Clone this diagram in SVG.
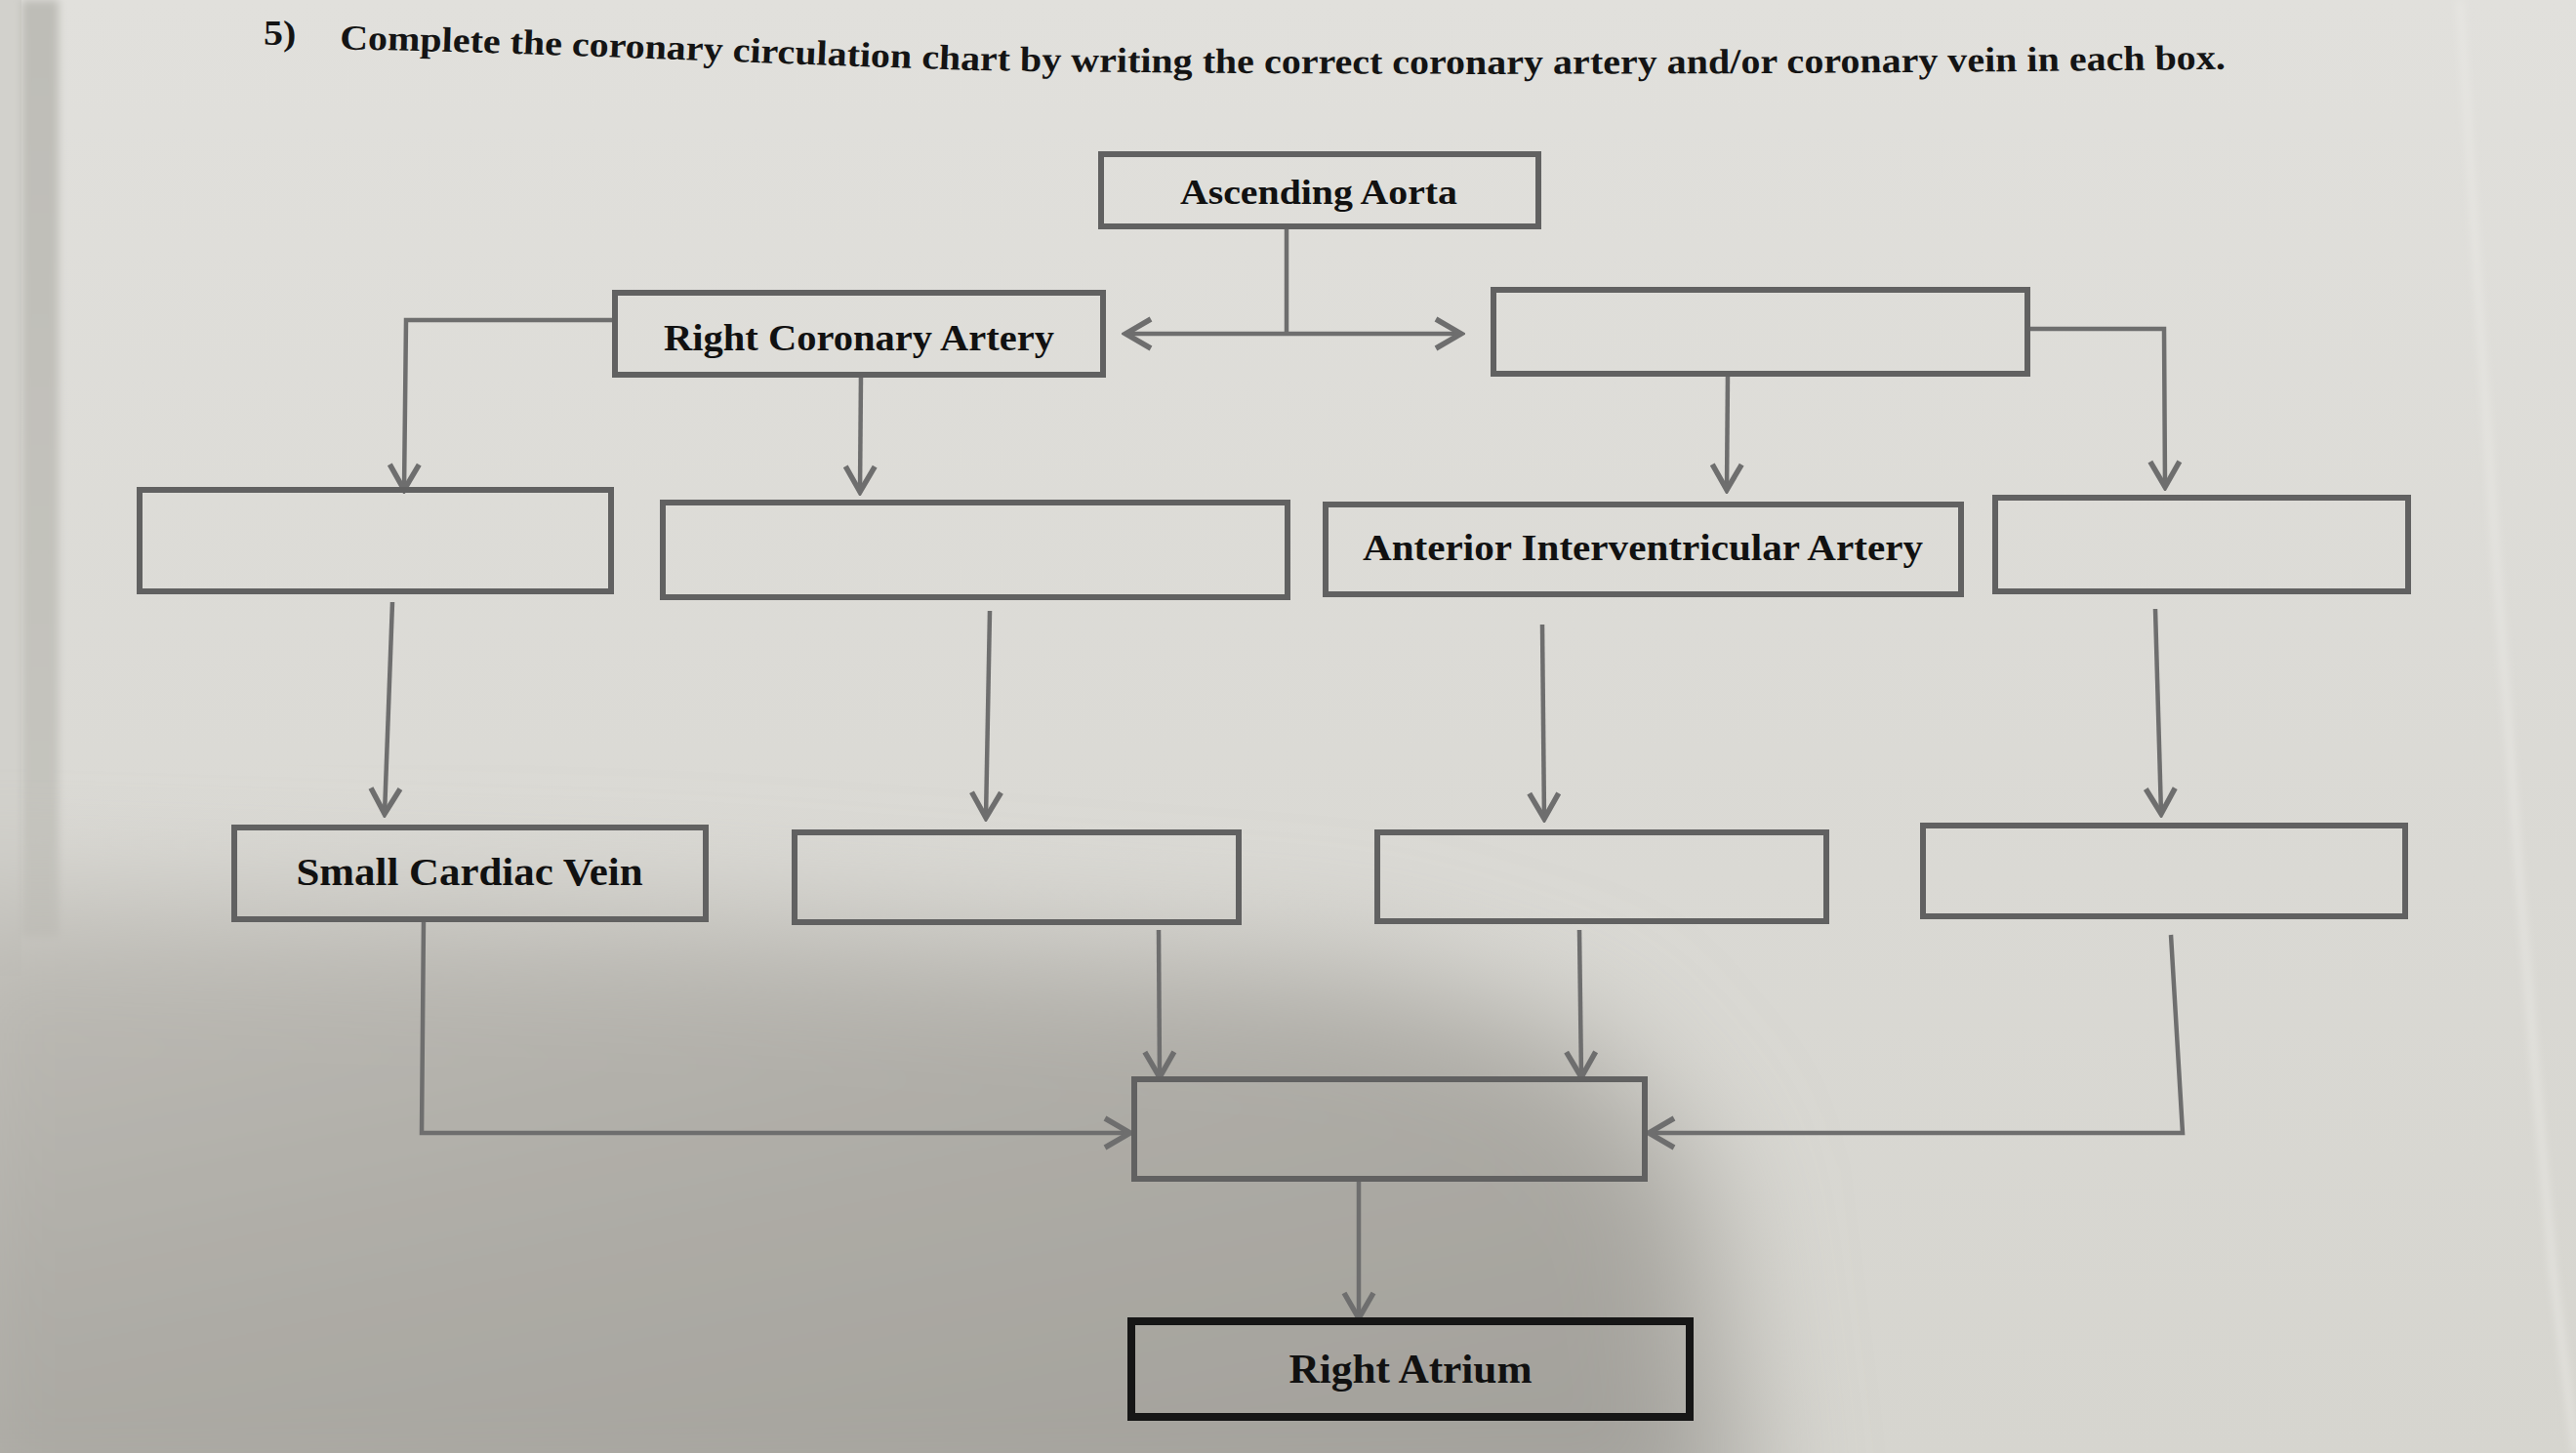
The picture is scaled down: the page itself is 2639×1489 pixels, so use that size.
<svg xmlns="http://www.w3.org/2000/svg" width="2639" height="1489" viewBox="0 0 2639 1489">
  <defs>
    <style>
      .box { fill: none; stroke: #616161; stroke-width: 6; }
      .ra { fill: none; stroke: #161616; stroke-width: 8; }
      .lbl { font-family: "Liberation Serif", "Times New Roman", serif; font-weight: bold; fill: #111; text-anchor: middle; }
      .title { font-family: "Liberation Serif", "Times New Roman", serif; font-weight: bold; fill: #141414; font-size: 40px; }
      .con { fill: none; stroke: #6e6e6e; stroke-width: 4.5; stroke-linejoin: miter; }
    </style>
    <marker id="ah" viewBox="-32 -20 36 40" refX="0" refY="0" markerWidth="36" markerHeight="40" markerUnits="userSpaceOnUse" orient="auto-start-reverse">
      <path d="M -26 -15 L 0 0 L -26 15" fill="none" stroke="#6e6e6e" stroke-width="5.5"/>
    </marker>
    <linearGradient id="paper" x1="0" y1="0" x2="0" y2="1">
      <stop offset="0" stop-color="#e1e0dc"/>
      <stop offset="0.6" stop-color="#dad9d4"/>
      <stop offset="1" stop-color="#d6d5cf"/>
    </linearGradient>
    <linearGradient id="shade" x1="0" y1="0" x2="0.6" y2="1">
      <stop offset="0" stop-color="#bfbdb7"/>
      <stop offset="0.5" stop-color="#aeaca6"/>
      <stop offset="1" stop-color="#a3a19b"/>
    </linearGradient>
    <linearGradient id="edge" x1="0" y1="0" x2="0" y2="1">
      <stop offset="0" stop-color="#bebdb7"/>
      <stop offset="1" stop-color="#c6c5bf"/>
    </linearGradient>
    <filter id="blur" x="-20%" y="-20%" width="140%" height="140%">
      <feGaussianBlur stdDeviation="65"/>
    </filter>
    <filter id="soft" x="-50%" y="-5%" width="200%" height="110%">
      <feGaussianBlur stdDeviation="4"/>
    </filter>
  </defs>

  <!-- paper background -->
  <rect x="0" y="0" width="2639" height="1489" fill="url(#paper)"/>
  <rect x="0" y="0" width="22" height="1000" fill="#d2d1cc"/>
  <rect x="22" y="0" width="38" height="960" fill="url(#edge)" filter="url(#soft)"/>
  <path d="M -100 920 L 700 945 L 1400 995 L 1620 1060 L 1740 1200 L 1790 1600 L -100 1600 Z" fill="url(#shade)" filter="url(#blur)"/>
  <path d="M 2520 0 C 2545 400, 2570 800, 2615 1300 L 2639 1489" fill="none" stroke="#ecebe7" stroke-width="4" filter="url(#soft)"/>

  <!-- title -->
  <g id="title">
    <g transform="scale(1,0.9)">
      <text class="title" x="270" y="51">5)</text>
      <path id="tpath" d="M 348 56 C 550 60, 750 71, 1000 80 C 1400 87, 1900 84, 2320 78" fill="none"/>
      <text class="title"><textPath href="#tpath">Complete the coronary circulation chart by writing the correct coronary artery and/or coronary vein in each box.</textPath></text>
    </g>
  </g>

  <!-- connectors -->
  <g id="connectors">
    <path class="con" d="M 1318 232 L 1318 342"/>
    <path class="con" d="M 1153 342 L 1497 342" marker-start="url(#ah)" marker-end="url(#ah)"/>
    <path class="con" d="M 630 328 L 416 328 L 414 502" marker-end="url(#ah)"/>
    <path class="con" d="M 882 384 L 881 504" marker-end="url(#ah)"/>
    <path class="con" d="M 1770 383 L 1769 502" marker-end="url(#ah)"/>
    <path class="con" d="M 2077 337 L 2217 337 L 2218 499" marker-end="url(#ah)"/>
    <path class="con" d="M 402 617 L 394 834" marker-end="url(#ah)"/>
    <path class="con" d="M 1014 626 L 1010 838" marker-end="url(#ah)"/>
    <path class="con" d="M 1580 640 L 1582 839" marker-end="url(#ah)"/>
    <path class="con" d="M 2208 624 L 2214 834" marker-end="url(#ah)"/>
    <path class="con" d="M 434 942 L 432 1161 L 1158 1161" marker-end="url(#ah)"/>
    <path class="con" d="M 1187 953 L 1188 1104" marker-end="url(#ah)"/>
    <path class="con" d="M 1618 953 L 1620 1104" marker-end="url(#ah)"/>
    <path class="con" d="M 2224 958 L 2236 1161 L 1689 1161" marker-end="url(#ah)"/>
    <path class="con" d="M 1392 1208 L 1392 1351" marker-end="url(#ah)"/>
  </g>

  <!-- nodes -->
  <g id="ascending-aorta">
    <rect class="box" x="1128" y="158" width="448" height="74"/>
    <text class="lbl" x="1351" y="209" font-size="36" textLength="284" lengthAdjust="spacingAndGlyphs">Ascending Aorta</text>
  </g>
  <g id="right-coronary-artery">
    <rect class="box" x="630" y="300" width="500" height="84"/>
    <text class="lbl" x="880" y="359" font-size="38" textLength="400" lengthAdjust="spacingAndGlyphs">Right Coronary Artery</text>
  </g>
  <g id="left-coronary-blank">
    <rect class="box" x="1530" y="297" width="547" height="86"/>
  </g>
  <g id="row2-col1-blank">
    <rect class="box" x="143" y="502" width="483" height="104"/>
  </g>
  <g id="row2-col2-blank">
    <rect class="box" x="679" y="515" width="640" height="97"/>
  </g>
  <g id="anterior-interventricular-artery">
    <rect class="box" x="1358" y="517" width="651" height="92"/>
    <text class="lbl" x="1683" y="574" font-size="38" textLength="574" lengthAdjust="spacingAndGlyphs">Anterior Interventricular Artery</text>
  </g>
  <g id="row2-col4-blank">
    <rect class="box" x="2044" y="510" width="423" height="96"/>
  </g>
  <g id="small-cardiac-vein">
    <rect class="box" x="240" y="848" width="483" height="94"/>
    <text class="lbl" x="481" y="907" font-size="41" textLength="355" lengthAdjust="spacingAndGlyphs">Small Cardiac Vein</text>
  </g>
  <g id="row3-col2-blank">
    <rect class="box" x="814" y="853" width="455" height="92"/>
  </g>
  <g id="row3-col3-blank">
    <rect class="box" x="1411" y="853" width="460" height="91"/>
  </g>
  <g id="row3-col4-blank">
    <rect class="box" x="1970" y="846" width="494" height="93"/>
  </g>
  <g id="collector-blank">
    <rect class="box" x="1162" y="1106" width="523" height="102"/>
  </g>
  <g id="right-atrium">
    <rect class="ra" x="1159" y="1354" width="572" height="98"/>
    <text class="lbl" x="1445" y="1417" font-size="42" textLength="249" lengthAdjust="spacingAndGlyphs">Right Atrium</text>
  </g>
</svg>
